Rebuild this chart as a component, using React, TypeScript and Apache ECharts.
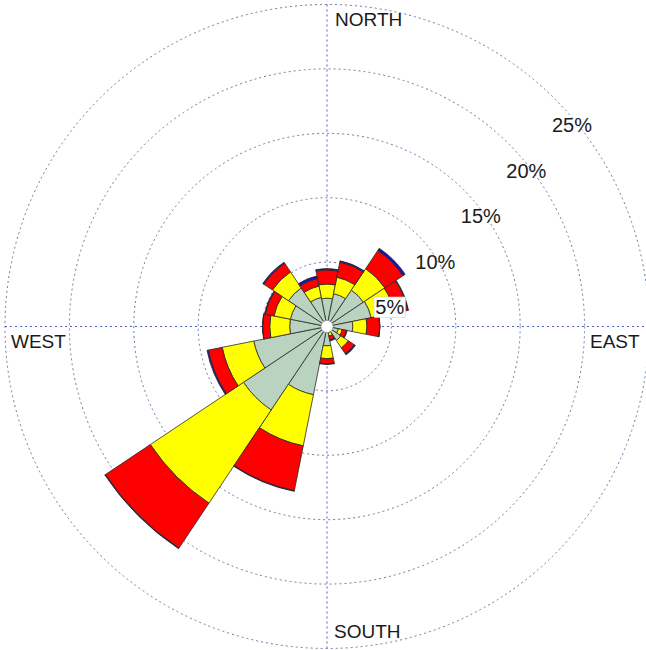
import React, { useEffect, useRef } from "react";
import * as echarts from "echarts";

// Wind directions, clockwise from north
const directions = ["N", "NNE", "NE", "ENE", "E", "ESE", "SE", "SSE", "S", "SSW", "SW", "WSW", "W", "WNW", "NW", "NNW"];
// Frequency (%) per speed class, stacked outward
const bandNames = ["Class 1", "Class 2", "Class 3", "Class 4"];
const band1 = [2.2, 2.6, 3.4, 3.5, 2.0, 0.9, 1.3, 0.5, 1.5, 5.4, 7.8, 5.8, 2.9, 2.9, 3.6, 2.3];
const band2 = [1.1, 1.3, 2.0, 1.85, 1.1, 0.3, 0.7, 0.25, 1.0, 4.05, 8.7, 2.5, 1.55, 1.3, 1.5, 0.9];
const band3 = [1.1, 1.2, 1.7, 1.05, 1.0, 0.35, 0.55, 0.3, 0.4, 3.55, 4.2, 1.1, 0.55, 0.7, 0.8, 0.6];
const band4 = [0.1, 0.1, 0.2, 0.05, 0.02, 0.05, 0.1, 0.1, 0.05, 0.05, 0.05, 0.1, 0.02, 0.05, 0.1, 0.2];
const ringMax = 25;
const ringStep = 5;
const compassLabels = ["NORTH", "EAST", "SOUTH", "WEST"];

const bandColors = ["#bad2c0", "#ffff00", "#ff0000", "#1414b4"];

export default function App() {
  const ref = useRef<HTMLDivElement>(null);
  useEffect(() => {
    if (!ref.current) return;
    const chart = echarts.init(ref.current, null, { renderer: "svg" });
    const CX = 327;
    const CY = 326.5;
    const R = 322;
    const font = "Liberation Sans";
    const compassPos: Record<string, [number, number]> = {
      NORTH: [CX + 8, CY - R + 5],
      EAST: [CX + R - 59, CY + 5],
      SOUTH: [CX + 7, CY + R - 27],
      WEST: [CX - R + 6, CY + 5],
    };
    chart.setOption({
      animation: false,
      backgroundColor: "#ffffff",
      polar: [
        { center: [CX, CY], radius: [0, R] },
        { center: [CX, CY], radius: [0, R] },
        { center: [CX, CY], radius: [0, R] },
      ],
      angleAxis: [
        {
          polarIndex: 0,
          type: "category",
          data: directions,
          startAngle: 90 + 360 / directions.length / 2,
          clockwise: true,
          boundaryGap: true,
          axisLine: { show: false },
          axisTick: { show: false },
          axisLabel: { show: false },
          splitLine: { show: false },
        },
        {
          polarIndex: 1,
          type: "value",
          min: 0,
          max: 360,
          interval: 90,
          startAngle: 90,
          clockwise: true,
          axisLine: { show: false },
          axisTick: { show: false },
          axisLabel: { show: false },
          splitLine: { show: true, lineStyle: { type: [2, 3], color: "#4f5cc0", width: 1 } },
        },
        {
          polarIndex: 2,
          type: "value",
          min: 0,
          max: 360,
          startAngle: 45,
          axisLine: { show: false },
          axisTick: { show: false },
          axisLabel: { show: false },
          splitLine: { show: false },
        },
      ],
      radiusAxis: [
        { polarIndex: 0, type: "value", min: 0, max: ringMax, show: false },
        {
          polarIndex: 1,
          type: "value",
          min: 0,
          max: ringMax,
          interval: ringStep,
          axisLine: { show: false },
          axisTick: { show: false },
          axisLabel: { show: false },
          splitLine: { show: true, lineStyle: { type: [2, 3], color: "#7078a4", width: 1 } },
        },
        {
          polarIndex: 2,
          type: "value",
          min: 0,
          max: ringMax,
          interval: ringStep,
          z: 10,
          axisLine: { show: false },
          axisTick: { show: false },
          splitLine: { show: false },
          axisLabel: {
            margin: -30,
            align: "center",
            verticalAlign: "middle",
            padding: [10, 8, 0, 0],
            fontSize: 20,
            fontFamily: font,
            color: "#1a1a1a",
            showMinLabel: false,
            formatter: (v: number) => (v === 0 ? "" : v === ringStep ? `{w|${v}%}` : `${v}%`),
            rich: {
              w: {
                backgroundColor: "#ffffff",
                borderColor: "#cccccc",
                borderWidth: 0.5,
                padding: [0, 1],
                fontSize: 20,
                fontFamily: font,
                color: "#1a1a1a",
              },
            },
          },
        },
      ],
      series: [band1, band2, band3, band4].map((d, i) => ({
        type: "bar",
        name: bandNames[i],
        coordinateSystem: "polar",
        polarIndex: 0,
        stack: "wind",
        data: d,
        barCategoryGap: "0%",
        z: 2,
        itemStyle: { color: bandColors[i], borderColor: "#2a2a2a", borderWidth: 0.8 },
      })),
      graphic: [
        {
          type: "circle",
          z: 50,
          shape: { cx: CX, cy: CY, r: 6 },
          style: { fill: "#ffffff", stroke: "#999999", lineWidth: 0.8 },
        },
        ...compassLabels.map((t) => ({
          type: "text",
          z: 50,
          x: compassPos[t][0],
          y: compassPos[t][1],
          style: {
            text: t,
            fontSize: 19,
            fontFamily: font,
            fill: "#1a1a1a",
            align: "left",
            verticalAlign: "top",
          },
        })),
      ],
    });
    return () => chart.dispose();
  }, []);
  return (
    <div
      ref={ref}
      style={{ position: "fixed", left: 0, top: 0, width: 646, height: 650, background: "#fff" }}
    />
  );
}
